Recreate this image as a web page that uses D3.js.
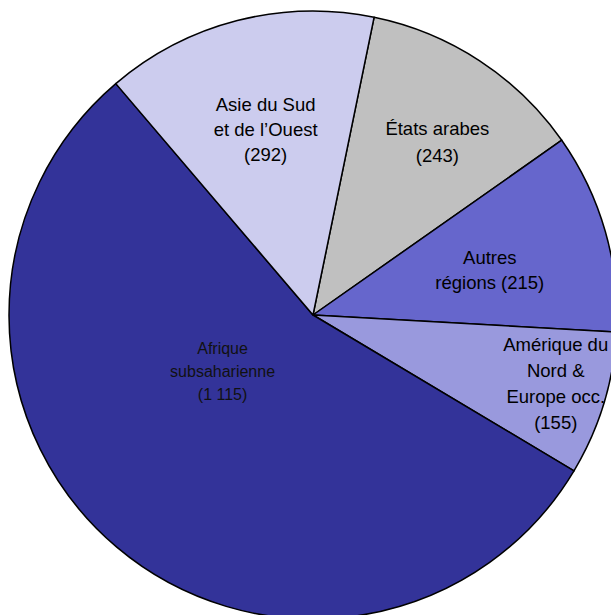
<!DOCTYPE html>
<html><head><meta charset="utf-8">
<script src="https://cdn.jsdelivr.net/npm/d3@7/dist/d3.min.js"></script>
<style>html,body{margin:0;padding:0;background:#fff;overflow:hidden}</style>
</head><body>
<svg id="c" width="611" height="615"></svg>
<script>
const categories = ["États arabes", "Autres régions", "Amérique du Nord & Europe occ.", "Afrique subsaharienne", "Asie du Sud et de l’Ouest"];
const values = [243, 215, 155, 1115, 292];
const labelLines = [
  ["États arabes", "(243)"],
  ["Autres", "régions (215)"],
  ["Amérique du", "Nord &", "Europe occ.", "(155)"],
  ["Afrique", "subsaharienne", "(1 115)"],
  ["Asie du Sud", "et de l’Ouest", "(292)"]
];
const colors = ["#C0C0C0", "#6666CC", "#9999DD", "#333399", "#CCCCEE"];

// layout (not data)
const cx = 313, cy = 315, R = 304;
const startDeg = 11.6;
const labelLayout = [
  {r: 0.70, da: 2.5, size: 18.5, lh: 27},
  {r: 0.60, da: 1.7, size: 18.5, lh: 25},
  {r: 0.83, da: -1.2, size: 18.5, lh: 26},
  {r: 0.35, da: 18, size: 16, lh: 23},
  {r: 0.63, da: 0.1, size: 18.5, lh: 25}
];

const svg = d3.select("#c");
const g = svg.append("g").attr("transform", `translate(${cx},${cy})`);
const pie = d3.pie().sort(null).value(d => d)
  .startAngle(startDeg * Math.PI / 180)
  .endAngle(startDeg * Math.PI / 180 + 2 * Math.PI);
const arcs = pie(values);
const arc = d3.arc().innerRadius(0).outerRadius(R);

g.selectAll("path").data(arcs).enter().append("path")
  .attr("d", arc)
  .attr("fill", (d, i) => colors[i])
  .attr("stroke", "#000")
  .attr("stroke-width", 1.5)
  .attr("stroke-linejoin", "round");

arcs.forEach((d, i) => {
  const L = labelLayout[i];
  const mid = (d.startAngle + d.endAngle) / 2 + L.da * Math.PI / 180;
  const lr = L.r * R;
  const x = Math.sin(mid) * lr, y = -Math.cos(mid) * lr;
  const lines = labelLines[i];
  const t = g.append("text")
    .attr("text-anchor", "middle")
    .attr("font-family", "Liberation Sans, Arial, sans-serif")
    .attr("font-size", L.size)
    .attr("fill", i === 3 ? "#111" : "#000");
  const y0 = y - (lines.length - 1) * L.lh / 2;
  lines.forEach((ln, j) => {
    t.append("tspan").attr("x", x).attr("y", y0 + j * L.lh).attr("dy", "0.35em").text(ln);
  });
});
</script>
</body></html>
